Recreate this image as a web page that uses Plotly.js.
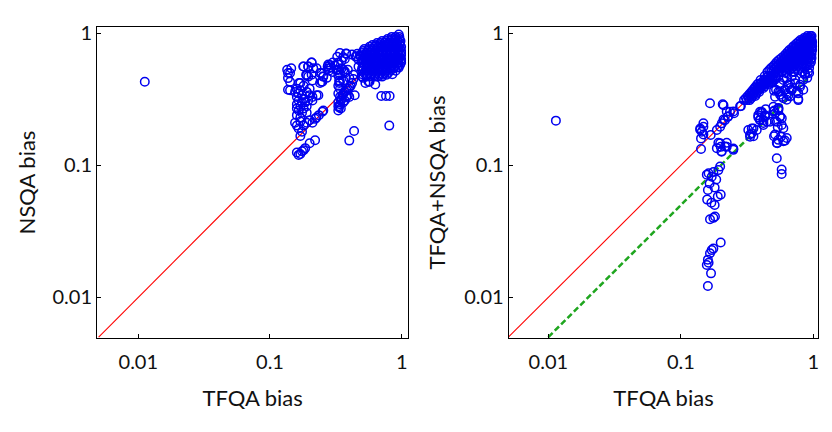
<!DOCTYPE html>
<html>
<head>
<meta charset="utf-8">
<script src="https://cdn.plot.ly/plotly-3.0.1.min.js"></script>
<style>html,body{margin:0;padding:0;background:#fff;}#chart{width:832px;height:432px;}</style>
</head>
<body>
<div id="chart"></div>
<script>
// ---------- DATA ----------
var tickValues = [0.01, 0.1, 1];
var tickLabels = ['0.01', '0.1', '1'];
var xTitle = 'TFQA bias';
var leftYTitle = 'NSQA bias';
var rightYTitle = 'TFQA+NSQA bias';

// reference lines
var diagX = [0.005, 1];
var diagY = [0.005, 1];
var halfX = [0.01, 0.9];
var halfY = [0.005, 0.45];

// Left panel: dense cluster, rows of [NSQA bias, [TFQA bias ...]]
var leftClusterRows = [
  [0.47, [0.50, 0.54, 0.58, 0.62, 0.66, 0.71]],
  [0.485, [0.51, 0.55, 0.59, 0.63, 0.68, 0.72, 0.77]],
  [0.50, [0.52, 0.56, 0.60, 0.64, 0.69, 0.74, 0.79]],
  [0.52, [0.50, 0.54, 0.58, 0.62, 0.66, 0.71, 0.76, 0.82]],
  [0.54, [0.50, 0.54, 0.58, 0.62, 0.66, 0.71, 0.76, 0.82, 0.86]],
  [0.555, [0.51, 0.55, 0.59, 0.63, 0.68, 0.72, 0.77, 0.83, 0.88, 0.93]],
  [0.575, [0.52, 0.56, 0.60, 0.64, 0.69, 0.74, 0.79, 0.85, 0.91, 0.97]],
  [0.60, [0.50, 0.54, 0.58, 0.62, 0.66, 0.71, 0.76, 0.82, 0.87, 0.94, 0.99]],
  [0.62, [0.50, 0.54, 0.58, 0.62, 0.66, 0.71, 0.76, 0.82, 0.87, 0.94, 0.99]],
  [0.64, [0.51, 0.55, 0.59, 0.63, 0.68, 0.72, 0.77, 0.83, 0.89, 0.95, 0.99]],
  [0.66, [0.52, 0.56, 0.60, 0.64, 0.69, 0.74, 0.79, 0.85, 0.91, 0.97]],
  [0.685, [0.51, 0.55, 0.59, 0.63, 0.68, 0.72, 0.77, 0.83, 0.89, 0.95, 0.99]],
  [0.71, [0.50, 0.54, 0.58, 0.62, 0.66, 0.71, 0.76, 0.82, 0.87, 0.94, 0.99]],
  [0.735, [0.51, 0.55, 0.59, 0.63, 0.68, 0.72, 0.77, 0.83, 0.89, 0.95, 0.99]],
  [0.76, [0.52, 0.56, 0.60, 0.64, 0.69, 0.74, 0.79, 0.85, 0.91, 0.97]],
  [0.79, [0.57, 0.62, 0.66, 0.71, 0.76, 0.82, 0.88, 0.94, 0.99]],
  [0.815, [0.60, 0.64, 0.69, 0.74, 0.79, 0.85, 0.91, 0.97]],
  [0.845, [0.65, 0.69, 0.74, 0.79, 0.85, 0.91, 0.97]],
  [0.875, [0.71, 0.76, 0.82, 0.87, 0.93, 0.98]],
  [0.905, [0.78, 0.84, 0.90, 0.96]],
  [0.94, [0.84, 0.90, 0.96]],
  [0.98, [0.95]]
];
// Left panel: scattered points [TFQA bias, NSQA bias]
var leftScatter = [
  [0.0112, 0.43],
  [0.47, 0.63], [0.47, 0.56], [0.48, 0.68], [0.46, 0.70], [0.85, 0.49], [0.90, 0.52], [0.95, 0.55],
  [0.145, 0.543], [0.137, 0.50], [0.142, 0.43], [0.142, 0.37], [0.166, 0.42], [0.179, 0.56],
  [0.195, 0.56], [0.207, 0.60], [0.226, 0.543], [0.285, 0.575], [0.274, 0.56], [0.324, 0.665],
  [0.378, 0.705], [0.447, 0.665], [0.49, 0.665], [0.195, 0.47], [0.21, 0.44], [0.33, 0.527],
  [0.33, 0.48], [0.336, 0.42], [0.36, 0.527], [0.37, 0.50], [0.54, 0.48], [0.57, 0.43],
  [0.63, 0.41], [0.44, 0.34], [0.70, 0.335], [0.76, 0.335], [0.81, 0.335], [0.25, 0.255],
  [0.17, 0.167], [0.20, 0.147], [0.22, 0.155], [0.40, 0.154], [0.435, 0.182], [0.805, 0.20],
  [0.24, 0.50], [0.254, 0.47], [0.246, 0.43], [0.233, 0.34], [0.19, 0.48],
  [0.16, 0.38], [0.17, 0.37], [0.165, 0.35], [0.175, 0.34], [0.16, 0.33], [0.18, 0.32],
  [0.165, 0.31], [0.175, 0.30], [0.16, 0.29], [0.17, 0.28], [0.18, 0.27], [0.165, 0.26],
  [0.175, 0.25], [0.16, 0.24], [0.17, 0.23], [0.19, 0.36], [0.20, 0.34], [0.185, 0.30],
  [0.195, 0.31], [0.21, 0.33], [0.19, 0.28], [0.20, 0.38], [0.18, 0.40], [0.155, 0.36],
  [0.16, 0.27], [0.19, 0.25], [0.21, 0.31], [0.226, 0.34],
  [0.155, 0.21], [0.16, 0.20], [0.17, 0.215], [0.18, 0.20], [0.19, 0.21], [0.20, 0.22],
  [0.21, 0.21], [0.22, 0.225], [0.165, 0.19], [0.175, 0.18], [0.225, 0.23], [0.235, 0.24],
  [0.16, 0.125], [0.165, 0.12], [0.17, 0.122], [0.175, 0.128], [0.18, 0.13], [0.185, 0.135],
  [0.33, 0.26], [0.335, 0.275], [0.34, 0.29], [0.33, 0.30], [0.345, 0.31], [0.35, 0.32],
  [0.34, 0.33], [0.355, 0.34], [0.36, 0.35], [0.37, 0.36], [0.38, 0.37], [0.39, 0.38],
  [0.40, 0.39], [0.41, 0.40], [0.42, 0.42], [0.33, 0.28], [0.345, 0.27], [0.36, 0.30],
  [0.37, 0.31], [0.38, 0.33], [0.33, 0.35], [0.34, 0.38], [0.33, 0.40], [0.335, 0.44],
  [0.36, 0.44], [0.39, 0.34], [0.40, 0.33], [0.43, 0.45],
  [0.28, 0.52], [0.29, 0.55], [0.30, 0.60], [0.31, 0.57], [0.32, 0.53], [0.30, 0.51],
  [0.35, 0.62], [0.37, 0.64], [0.36, 0.66], [0.33, 0.60],
  [0.246, 0.50], [0.253, 0.472], [0.25, 0.43], [0.27, 0.46], [0.24, 0.42],
  [0.207, 0.60], [0.195, 0.56], [0.18, 0.56], [0.213, 0.545], [0.207, 0.486], [0.188, 0.486],
  [0.135, 0.53], [0.142, 0.50], [0.137, 0.458], [0.137, 0.374], [0.17, 0.42],
  [0.33, 0.58], [0.35, 0.545], [0.32, 0.53], [0.37, 0.515], [0.39, 0.53], [0.34, 0.486],
  [0.34, 0.43], [0.40, 0.46], [0.43, 0.486], [0.34, 0.71], [0.38, 0.70], [0.277, 0.58],
  [0.28, 0.545], [0.42, 0.69], [0.455, 0.67], [0.254, 0.26],
  [0.53, 0.42], [0.56, 0.43], [0.51, 0.46]
];

// Right panel: dense band/cluster, rows of [TFQA+NSQA bias, [TFQA bias ...]]
var rightClusterRows = [
  [0.954, [0.90, 0.95, 0.97]],
  [0.92, [0.85, 0.89, 0.93, 0.96]],
  [0.89, [0.80, 0.845, 0.89, 0.93, 0.97]],
  [0.86, [0.77, 0.81, 0.86, 0.90, 0.95, 0.98]],
  [0.83, [0.74, 0.785, 0.83, 0.87, 0.92, 0.97]],
  [0.80, [0.71, 0.75, 0.80, 0.845, 0.895, 0.945, 0.98]],
  [0.774, [0.69, 0.73, 0.775, 0.82, 0.87, 0.92, 0.97]],
  [0.748, [0.66, 0.70, 0.745, 0.79, 0.84, 0.89, 0.94, 0.98]],
  [0.722, [0.64, 0.68, 0.72, 0.76, 0.81, 0.86, 0.91, 0.96]],
  [0.697, [0.62, 0.655, 0.695, 0.73, 0.78, 0.83, 0.88, 0.93, 0.97]],
  [0.673, [0.60, 0.635, 0.675, 0.71, 0.75, 0.80, 0.85, 0.90, 0.95]],
  [0.65, [0.575, 0.61, 0.65, 0.685, 0.72, 0.765, 0.815, 0.865, 0.92, 0.97]],
  [0.628, [0.55, 0.59, 0.63, 0.665, 0.70, 0.74, 0.79, 0.84, 0.89, 0.95]],
  [0.606, [0.53, 0.57, 0.605, 0.64, 0.675, 0.71, 0.755, 0.805, 0.855, 0.91, 0.96]],
  [0.585, [0.515, 0.55, 0.585, 0.62, 0.655, 0.69, 0.73, 0.78, 0.83, 0.88, 0.94]],
  [0.565, [0.50, 0.53, 0.565, 0.595, 0.63, 0.67, 0.715, 0.77, 0.83, 0.895]],
  [0.546, [0.48, 0.515, 0.55, 0.58, 0.61, 0.65, 0.69, 0.74, 0.80, 0.86, 0.93]],
  [0.527, [0.465, 0.50, 0.53, 0.56, 0.60, 0.66, 0.77]],
  [0.509, [0.45, 0.48, 0.515, 0.545, 0.58, 0.63, 0.72, 0.83, 0.91]],
  [0.475, [0.43, 0.455, 0.48, 0.50, 0.52, 0.545]],
  [0.458, [0.44, 0.47, 0.49, 0.52]],
  [0.443, [0.40, 0.425, 0.45, 0.47, 0.49, 0.51]],
  [0.427, [0.41, 0.435, 0.46, 0.48]],
  [0.413, [0.38, 0.40, 0.42, 0.44, 0.46]],
  [0.398, [0.37, 0.39, 0.41, 0.43]],
  [0.385, [0.36, 0.38, 0.40, 0.42]],
  [0.372, [0.35, 0.37, 0.39]],
  [0.359, [0.34, 0.36, 0.375, 0.39]],
  [0.347, [0.33, 0.35, 0.37]],
  [0.335, [0.32, 0.335, 0.35, 0.365]],
  [0.323, [0.31, 0.325, 0.34]],
  [0.312, [0.30, 0.315, 0.33]]
];
// Right panel: scattered points [TFQA bias, TFQA+NSQA bias]
var rightScatter = [
  [0.0114, 0.218],
  [0.523, 0.374], [0.561, 0.343], [0.611, 0.374], [0.667, 0.42], [0.63, 0.458], [0.727, 0.445],
  [0.794, 0.408], [0.75, 0.364], [0.667, 0.333], [0.77, 0.318], [0.63, 0.314], [0.707, 0.515],
  [0.866, 0.486], [0.561, 0.42], [0.667, 0.385], [0.84, 0.374],
  [0.505, 0.367], [0.561, 0.361], [0.63, 0.347], [0.686, 0.372], [0.77, 0.312], [0.594, 0.322],
  [0.594, 0.443], [0.648, 0.406], [0.686, 0.372], [0.611, 0.372], [0.545, 0.361], [0.514, 0.331],
  [0.577, 0.331], [0.648, 0.34], [0.77, 0.351], [0.727, 0.418], [0.794, 0.394], [0.84, 0.443],
  [0.866, 0.497], [0.686, 0.469], [0.63, 0.497], [0.561, 0.406], [0.90, 0.46], [0.93, 0.50],
  [0.545, 0.262], [0.514, 0.248], [0.561, 0.233], [0.53, 0.214], [0.577, 0.202], [0.499, 0.278],
  [0.408, 0.255], [0.384, 0.24], [0.432, 0.24], [0.396, 0.22], [0.445, 0.214], [0.42, 0.202],
  [0.396, 0.255], [0.437, 0.266], [0.384, 0.231], [0.42, 0.22], [0.471, 0.214], [0.508, 0.26],
  [0.545, 0.27], [0.578, 0.227], [0.594, 0.191], [0.539, 0.194], [0.505, 0.166], [0.535, 0.147],
  [0.611, 0.154], [0.57, 0.165], [0.53, 0.113], [0.577, 0.093], [0.577, 0.086],
  [0.374, 0.185], [0.343, 0.175], [0.333, 0.165], [0.353, 0.19], [0.323, 0.185], [0.249, 0.134],
  [0.284, 0.281], [0.252, 0.248], [0.235, 0.255], [0.226, 0.233], [0.215, 0.22], [0.204, 0.208],
  [0.198, 0.196], [0.187, 0.185], [0.207, 0.29], [0.166, 0.295], [0.168, 0.17],
  [0.14, 0.19], [0.144, 0.18], [0.148, 0.208], [0.142, 0.16], [0.142, 0.133],
  [0.192, 0.148], [0.20, 0.138], [0.222, 0.148], [0.222, 0.138], [0.203, 0.127],
  [0.198, 0.098], [0.192, 0.092], [0.176, 0.089], [0.162, 0.087], [0.157, 0.085], [0.171, 0.082],
  [0.185, 0.078], [0.165, 0.073], [0.18, 0.068], [0.20, 0.06], [0.16, 0.065], [0.19, 0.058],
  [0.158, 0.055], [0.17, 0.052], [0.18, 0.05],
  [0.166, 0.039], [0.176, 0.04], [0.181, 0.041], [0.20, 0.026],
  [0.176, 0.0234], [0.171, 0.0228], [0.166, 0.0216], [0.16, 0.0193], [0.162, 0.0183],
  [0.157, 0.0176], [0.169, 0.0152], [0.16, 0.0122],
  [0.21, 0.285], [0.28, 0.28], [0.249, 0.256], [0.222, 0.256], [0.228, 0.235], [0.21, 0.222],
  [0.148, 0.196], [0.14, 0.186], [0.148, 0.171], [0.198, 0.147], [0.215, 0.139], [0.187, 0.135],
  [0.203, 0.128], [0.249, 0.131],
  [0.408, 0.249], [0.432, 0.235], [0.396, 0.222], [0.42, 0.209], [0.50, 0.256], [0.545, 0.272],
  [0.561, 0.235], [0.514, 0.216], [0.343, 0.19], [0.333, 0.171], [0.353, 0.166],
  [0.514, 0.171], [0.545, 0.156], [0.53, 0.148], [0.594, 0.152], [0.63, 0.161]
];

// ---------- BUILD ----------
function rowsToXY(rows) {
  var xs = [], ys = [];
  rows.forEach(function (r) { r[1].forEach(function (x) { xs.push(x); ys.push(r[0]); }); });
  return [xs, ys];
}
function pairsToXY(p) {
  return [p.map(function (d) { return d[0]; }), p.map(function (d) { return d[1]; })];
}
var lc = rowsToXY(leftClusterRows), ls = pairsToXY(leftScatter);
var rc = rowsToXY(rightClusterRows), rs = pairsToXY(rightScatter);

var FONT = 'Lato, "Open Sans", sans-serif';
var BLUE = '#0000f0';
var markerStyle = { symbol: 'circle-open', size: 8.5, color: BLUE, line: { width: 1.5, color: BLUE } };

var traces = [
  { x: diagX, y: diagY, mode: 'lines', line: { color: '#ff0000', width: 1.1 }, xaxis: 'x', yaxis: 'y', hoverinfo: 'skip' },
  { x: ls[0].concat(lc[0]), y: ls[1].concat(lc[1]), mode: 'markers', marker: markerStyle, xaxis: 'x', yaxis: 'y' },
  { x: diagX, y: diagY, mode: 'lines', line: { color: '#ff0000', width: 1.1 }, xaxis: 'x2', yaxis: 'y2', hoverinfo: 'skip' },
  { x: halfX, y: halfY, mode: 'lines', line: { color: '#1fa61f', width: 2.5, dash: '6px,3px' }, xaxis: 'x2', yaxis: 'y2', hoverinfo: 'skip' },
  { x: rs[0].concat(rc[0]), y: rs[1].concat(rc[1]), mode: 'markers', marker: markerStyle, xaxis: 'x2', yaxis: 'y2' }
];

function axis(extra) {
  var a = {
    type: 'log', showgrid: false, zeroline: false,
    showline: true, mirror: true, linecolor: '#000', linewidth: 1.3,
    ticks: 'inside', ticklen: 4, tickwidth: 1, tickcolor: '#000',
    tickvals: tickValues, ticktext: tickLabels,
    tickfont: { family: FONT, size: 20, color: '#111' },
    automargin: false
  };
  for (var k in extra) a[k] = extra[k];
  return a;
}
var titleFont = { family: FONT, size: 22, color: '#111' };

var layout = {
  width: 832, height: 432,
  margin: { l: 0, r: 0, t: 0, b: 0 },
  paper_bgcolor: '#fff', plot_bgcolor: '#fff',
  showlegend: false,
  xaxis: axis({ domain: [0.117, 0.4904], range: [-2.311, 0.048], anchor: 'y', ticklabelstandoff: 6,
    title: { text: xTitle, font: titleFont, standoff: 18 } }),
  yaxis: axis({ domain: [0.2176, 0.9375], range: [-2.308, 0.048], anchor: 'x',
    title: { text: leftYTitle, font: titleFont, standoff: 10 } }),
  xaxis2: axis({ domain: [0.6118, 0.9832], range: [-2.297, 0.0355], anchor: 'y2', ticklabelstandoff: 6,
    title: { text: xTitle, font: titleFont, standoff: 18 } }),
  yaxis2: axis({ domain: [0.2176, 0.9375], range: [-2.308, 0.048], anchor: 'x2',
    title: { text: rightYTitle, font: titleFont, standoff: 12 } })
};

Plotly.newPlot('chart', traces, layout, { staticPlot: true, displayModeBar: false });
</script>
</body>
</html>
